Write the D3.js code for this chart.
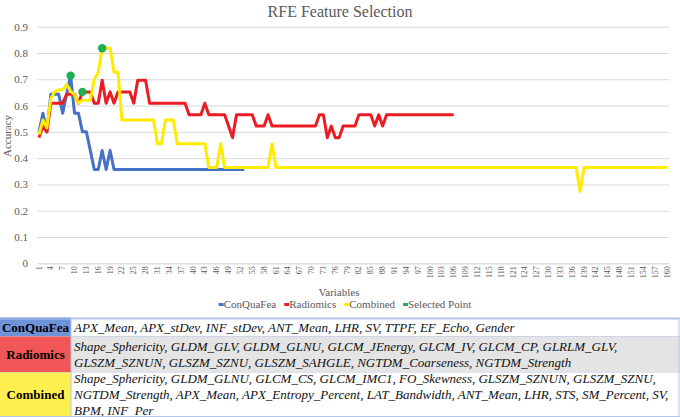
<!DOCTYPE html>
<html>
<head>
<meta charset="utf-8">
<title>RFE Feature Selection</title>
<style>
body { margin: 0; background: #fff; }
svg { display: block; }
svg text { font-family: "Liberation Serif", "Times New Roman", "DejaVu Serif", serif; }
</style>
</head>
<body>
<script src="https://d3js.org/d3.v7.min.js"></script>
<script>

// accuracy per number of variables
const conQuaFea = [
  0.5, 0.571, 0.5, 0.643, 0.643, 0.643, 0.571, 0.643, 0.714, 0.571,
  0.571, 0.5, 0.5, 0.429, 0.357, 0.357, 0.429, 0.357, 0.429, 0.357,
  0.357, 0.357, 0.357, 0.357, 0.357, 0.357, 0.357, 0.357, 0.357, 0.357,
  0.357, 0.357, 0.357, 0.357, 0.357, 0.357, 0.357, 0.357, 0.357, 0.357,
  0.357, 0.357, 0.357, 0.357, 0.357, 0.357, 0.357, 0.357, 0.357, 0.357,
  0.357, 0.357, 0.357
];

const radiomics = [
  0.478, 0.522, 0.5, 0.609, 0.609, 0.609, 0.609, 0.643, 0.643, 0.643,
  0.609, 0.652, 0.652, 0.652, 0.609, 0.609, 0.696, 0.609, 0.652, 0.609,
  0.652, 0.652, 0.652, 0.652, 0.609, 0.696, 0.696, 0.696, 0.609, 0.609,
  0.609, 0.609, 0.609, 0.609, 0.609, 0.609, 0.609, 0.609, 0.565, 0.565,
  0.565, 0.565, 0.609, 0.565, 0.565, 0.565, 0.565, 0.565, 0.522, 0.478,
  0.565, 0.565, 0.565, 0.565, 0.565, 0.522, 0.522, 0.522, 0.565, 0.522,
  0.522, 0.522, 0.522, 0.522, 0.522, 0.522, 0.522, 0.522, 0.522, 0.522,
  0.522, 0.565, 0.565, 0.478, 0.522, 0.478, 0.478, 0.522, 0.522, 0.522,
  0.522, 0.565, 0.565, 0.565, 0.565, 0.522, 0.565, 0.522, 0.565, 0.565,
  0.565, 0.565, 0.565, 0.565, 0.565, 0.565, 0.565, 0.565, 0.565, 0.565,
  0.565, 0.565, 0.565, 0.565, 0.565, 0.565
];

const combined = [
  0.49, 0.545, 0.515, 0.627, 0.652, 0.66, 0.66, 0.68, 0.655, 0.64,
  0.61, 0.62, 0.62, 0.62, 0.70, 0.727, 0.818, 0.818, 0.818, 0.727,
  0.727, 0.545, 0.545, 0.545, 0.545, 0.545, 0.545, 0.545, 0.545, 0.545,
  0.455, 0.455, 0.545, 0.545, 0.545, 0.455, 0.455, 0.455, 0.455, 0.455,
  0.455, 0.455, 0.455, 0.364, 0.364, 0.364, 0.455, 0.364, 0.364, 0.364,
  0.364, 0.364, 0.364, 0.364, 0.364, 0.364, 0.364, 0.364, 0.364, 0.455,
  0.364, 0.364, 0.364, 0.364, 0.364, 0.364, 0.364, 0.364, 0.364, 0.364,
  0.364, 0.364, 0.364, 0.364, 0.364, 0.364, 0.364, 0.364, 0.364, 0.364,
  0.364, 0.364, 0.364, 0.364, 0.364, 0.364, 0.364, 0.364, 0.364, 0.364,
  0.364, 0.364, 0.364, 0.364, 0.364, 0.364, 0.364, 0.364, 0.364, 0.364,
  0.364, 0.364, 0.364, 0.364, 0.364, 0.364, 0.364, 0.364, 0.364, 0.364,
  0.364, 0.364, 0.364, 0.364, 0.364, 0.364, 0.364, 0.364, 0.364, 0.364,
  0.364, 0.364, 0.364, 0.364, 0.364, 0.364, 0.364, 0.364, 0.364, 0.364,
  0.364, 0.364, 0.364, 0.364, 0.364, 0.364, 0.364, 0.273, 0.364, 0.364,
  0.364, 0.364, 0.364, 0.364, 0.364, 0.364, 0.364, 0.364, 0.364, 0.364,
  0.364, 0.364, 0.364, 0.364, 0.364, 0.364, 0.364, 0.364, 0.364, 0.364
];

// selected points (number of variables, accuracy)
const selectedVars = [9, 12, 17];
const selectedAcc = [0.714, 0.652, 0.818];

const seriesNames = ["ConQuaFea", "Radiomics", "Combined", "Selected Point"];
const seriesColors = ["#4472c4", "#ed1c24", "#ffeb00", "#1eb050"];

const variables = d3.range(1, 161);
const xTickValues = d3.range(1, 161, 3);
const yTickValues = [0, 0.1, 0.2, 0.3, 0.4, 0.5, 0.6, 0.7, 0.8, 0.9];

// feature table
const tableGroups = ["ConQuaFea", "Radiomics", "Combined"];
const tableLines = [
  ["APX_Mean, APX_stDev, INF_stDev, ANT_Mean, LHR, SV, TTPF, EF_Echo, Gender"],
  ["Shape_Sphericity, GLDM_GLV, GLDM_GLNU, GLCM_JEnergy, GLCM_IV, GLCM_CP, GLRLM_GLV,",
   "GLSZM_SZNUN, GLSZM_SZNU, GLSZM_SAHGLE, NGTDM_Coarseness, NGTDM_Strength"],
  ["Shape_Sphericity, GLDM_GLNU, GLCM_CS, GLCM_IMC1, FO_Skewness, GLSZM_SZNUN, GLSZM_SZNU,",
   "NGTDM_Strength, APX_Mean, APX_Entropy_Percent, LAT_Bandwidth, ANT_Mean, LHR, STS, SM_Percent, SV,",
   "BPM, INF_Per"]
];
const tableFills = ["#6f93d8", "#f05656", "#fff04f"];
const tableTextFills = ["#ffffff", "#e4e4e4", "#ffffff"];

const W = 680, H = 417;
const plot = { left: 37, right: 669, top: 26.7, bottom: 263.3 };
const serif = "Liberation Serif, Times New Roman, DejaVu Serif, serif";

const svg = d3.select("body").append("svg")
  .attr("width", W)
  .attr("height", H)
  .attr("font-family", serif);

svg.append("rect").attr("width", W).attr("height", H).attr("fill", "#fff");

const x = d3.scaleBand()
  .domain(variables)
  .range([plot.left, plot.right])
  .paddingInner(0);
const xc = v => x(v) + x.bandwidth() / 2;

const y = d3.scaleLinear()
  .domain([0, 0.9])
  .range([plot.bottom, plot.top]);

// title
svg.append("text")
  .attr("x", 340)
  .attr("y", 17)
  .attr("text-anchor", "middle")
  .attr("font-size", 16)
  .attr("fill", "#595959")
  .text("RFE Feature Selection");

// y axis + gridlines
const yAxis = svg.append("g")
  .attr("transform", `translate(${plot.left},0)`)
  .call(d3.axisLeft(y).tickValues(yTickValues).tickSize(-(plot.right - plot.left)).tickPadding(9).tickFormat(d3.format("~g")))
  .attr("font-family", serif);
yAxis.select(".domain").remove();
yAxis.selectAll(".tick line").attr("stroke", "#d9d9d9").attr("stroke-width", 1);
yAxis.selectAll(".tick text")
  .attr("fill", "#595959")
  .attr("font-size", 11);

svg.append("text")
  .attr("transform", `translate(11,136) rotate(-90)`)
  .attr("text-anchor", "middle")
  .attr("font-size", 11)
  .attr("fill", "#595959")
  .text("Accuracy");

// x axis
const xAxis = svg.append("g")
  .attr("transform", `translate(0,${plot.bottom})`)
  .call(d3.axisBottom(x).tickValues(xTickValues).tickSize(0).tickPadding(3))
  .attr("font-family", serif);
xAxis.select(".domain").attr("stroke", "#d9d9d9");
xAxis.selectAll(".tick text")
  .attr("fill", "#595959")
  .attr("font-size", 8)
  .attr("transform", "rotate(-90)")
  .attr("text-anchor", "end")
  .attr("dy", "0.32em")
  .attr("x", -3)
  .attr("y", 0);

svg.append("text")
  .attr("x", 339)
  .attr("y", 295.5)
  .attr("text-anchor", "middle")
  .attr("font-size", 11)
  .attr("fill", "#595959")
  .text("Variables");

// lines
const line = d3.line()
  .x((d, i) => xc(i + 1))
  .y(d => y(d));

[conQuaFea, radiomics, combined].forEach((vals, k) => {
  svg.append("path")
    .datum(vals)
    .attr("fill", "none")
    .attr("stroke", seriesColors[k])
    .attr("stroke-width", 3)
    .attr("stroke-linejoin", "round")
    .attr("d", line);
});

// selected points
svg.append("g")
  .selectAll("circle")
  .data(selectedVars)
  .join("circle")
  .attr("cx", d => xc(d))
  .attr("cy", (d, i) => y(selectedAcc[i]))
  .attr("r", 4.2)
  .attr("fill", seriesColors[3]);

// legend
const legend = svg.append("g").attr("font-size", 11).attr("fill", "#595959");
let lx = 0;
seriesNames.forEach((name, i) => {
  const g = legend.append("g");
  g.append("rect")
    .attr("x", lx).attr("y", -1.5)
    .attr("width", 5).attr("height", 3)
    .attr("fill", seriesColors[i]);
  const t = g.append("text")
    .attr("x", lx + 5)
    .attr("y", 0)
    .attr("dy", "0.35em")
    .text(name);
  lx += 5 + t.node().getComputedTextLength() + 8;
});
legend.attr("transform", `translate(${345 - (lx - 8) / 2},304.5)`);

// table
const tableTop = 318.5;
const rowHeights = [18, 36, 44];
const labelW = 71;
const lineH = 16;
let ty = tableTop;
tableGroups.forEach((grp, r) => {
  const h = rowHeights[r];
  svg.append("rect")
    .attr("x", labelW).attr("y", ty)
    .attr("width", W - labelW).attr("height", h)
    .attr("fill", tableTextFills[r]);
  svg.append("rect")
    .attr("x", 0).attr("y", ty)
    .attr("width", labelW).attr("height", h)
    .attr("fill", tableFills[r]);
  svg.append("text")
    .attr("x", labelW / 2)
    .attr("y", ty + h / 2)
    .attr("dy", "0.35em")
    .attr("text-anchor", "middle")
    .attr("font-weight", "bold")
    .attr("font-size", 13)
    .attr("fill", "#000")
    .text(grp);
  const lines = tableLines[r];
  const startY = ty + h / 2 - (lines.length - 1) * lineH / 2;
  lines.forEach((ln, j) => {
    svg.append("text")
      .attr("x", labelW + 3)
      .attr("y", startY + j * lineH)
      .attr("dy", "0.35em")
      .attr("font-style", "italic")
      .attr("font-size", 13)
      .attr("fill", "#111")
      .text(ln);
  });
  ty += h;
  svg.append("line")
    .attr("x1", 0).attr("x2", W)
    .attr("y1", ty).attr("y2", ty)
    .attr("stroke", "#b4c6e7").attr("stroke-width", 1);
});
// table borders
svg.append("line")
  .attr("x1", 0).attr("x2", W)
  .attr("y1", tableTop).attr("y2", tableTop)
  .attr("stroke", "#b4c6e7").attr("stroke-width", 2);
svg.append("line")
  .attr("x1", 0).attr("x2", labelW)
  .attr("y1", tableTop).attr("y2", tableTop)
  .attr("stroke", "#8eaadb").attr("stroke-width", 2);
svg.append("line")
  .attr("x1", labelW).attr("x2", labelW)
  .attr("y1", tableTop).attr("y2", H)
  .attr("stroke", "#b4c6e7").attr("stroke-width", 1);
svg.append("line")
  .attr("x1", W - 1).attr("x2", W - 1)
  .attr("y1", tableTop).attr("y2", H)
  .attr("stroke", "#b4c6e7").attr("stroke-width", 1);

</script>
</body>
</html>
